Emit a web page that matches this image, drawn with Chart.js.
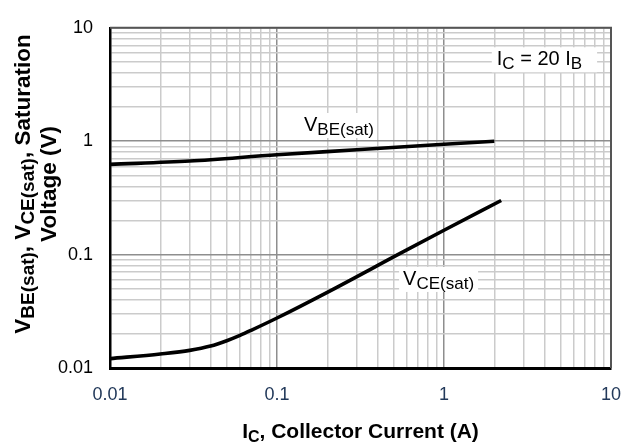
<!DOCTYPE html>
<html><head><meta charset="utf-8">
<script src="https://cdn.jsdelivr.net/npm/chart.js@4/dist/chart.umd.min.js"></script>
<style>html,body{margin:0;padding:0;background:#fff;} #wrap{width:642px;height:443px;position:relative;}</style>
</head><body><div id="wrap"><canvas id="c" width="642" height="443"></canvas></div>
<script>
const FONT = '"Liberation Sans", Arial, Helvetica, sans-serif';

// ---- data ----
const tickDecades = [0.01, 0.1, 1, 10];
const xTickLabels = ['0.01', '0.1', '1', '10'];
const yTickLabels = ['0.01', '0.1', '1', '10'];
const gridSteps = [1, 2, 3, 4, 5, 6, 7, 8, 9];

const icBE = [0.01, 0.03, 0.1, 0.3, 1, 2];
const vbeSat = [0.625, 0.668, 0.76, 0.84, 0.94, 1.0];

const icCE = [0.01, 0.02, 0.03, 0.04, 0.05, 0.06, 0.07, 0.1, 0.2, 0.55, 1, 2.2];
const vceSat = [0.0121, 0.0133, 0.0143, 0.0156, 0.0174, 0.0194, 0.0215, 0.0276, 0.0465, 0.103, 0.164, 0.30];

// ---- helpers ----
const gridValues = [];
tickDecades.slice(0, 3).forEach(d => gridSteps.forEach(s => gridValues.push(+(d * s).toPrecision(6))));
gridValues.push(10);
const isDecade = v => Math.abs(Math.log10(v) - Math.round(Math.log10(v))) < 1e-6;
const labelFor = (v, labels) => {
  const i = tickDecades.findIndex(d => Math.abs(Math.log10(d) - Math.log10(v)) < 1e-6);
  return i >= 0 ? labels[i] : '';
};

const annotations = [
  { x: 0.145, y: 1.23, parts: [['V', 0], ['BE(sat)', 1]], padL: 4, padR: 3 },
  { x: 2.07, y: 4.67, parts: [['I', 0], ['C', 1], [' = 20 ', 0], ['I', 0], ['B', 1]], padL: 5, padR: 15 },
  { x: 0.569, y: 0.054, parts: [['V', 0], ['CE(sat)', 1]], padL: 4, padR: 4 }
];

function fontStr(bold, size) { return (bold ? 'bold ' : '') + size + 'px ' + FONT; }
function measureParts(ctx, parts, main, sub, bold) {
  let w = 0;
  for (const [t, s] of parts) { ctx.font = fontStr(bold, s ? sub : main); w += ctx.measureText(t).width; }
  return w;
}
function drawParts(ctx, parts, x, y, main, sub, bold, dy, color) {
  ctx.textAlign = 'left'; ctx.textBaseline = 'alphabetic'; ctx.fillStyle = color;
  for (const [t, s] of parts) {
    ctx.font = fontStr(bold, s ? sub : main);
    ctx.fillText(t, x, y + (s ? dy : 0));
    x += ctx.measureText(t).width;
  }
}

const decorPlugin = {
  id: 'decor',
  beforeDatasetsDraw(chart) {
    const ctx = chart.ctx, xs = chart.scales.x, ys = chart.scales.y;
    ctx.save();
    for (const a of annotations) {
      const px = xs.getPixelForValue(a.x), py = ys.getPixelForValue(a.y);
      const w = measureParts(ctx, a.parts, 20, 17, false);
      ctx.fillStyle = '#fff';
      ctx.fillRect(px - a.padL, py - 18, w + a.padL + a.padR, 25);
      drawParts(ctx, a.parts, px, py, 20, 17, false, 4, '#000');
    }
    ctx.restore();
  },
  afterDraw(chart) {
    const ctx = chart.ctx, ca = chart.chartArea;
    ctx.save();
    ctx.strokeStyle = '#555'; ctx.lineWidth = 2;
    ctx.beginPath();
    ctx.moveTo(ca.left, ca.top); ctx.lineTo(ca.right, ca.top); ctx.lineTo(ca.right, ca.bottom);
    ctx.stroke();
    // x title
    const xp = [['I', 0], ['C', 1], [', Collector Current (A)', 0]];
    const wx = measureParts(ctx, xp, 21, 16, true);
    drawParts(ctx, xp, (ca.left + ca.right) / 2 - wx / 2, 438, 21, 16, true, 4, '#000');
    // y title
    const l1 = [['V', 0], ['BE(sat)', 1], [', ', 0], ['V', 0], ['CE(sat)', 1], [', Saturation', 0]];
    const l2 = [['Voltage (V)', 0]];
    const cy = 184;
    [[l1, 30], [l2, 56]].forEach(([parts, bx]) => {
      const w = measureParts(ctx, parts, 22.5, 19, true);
      ctx.save();
      ctx.translate(bx, cy);
      ctx.rotate(-Math.PI / 2);
      drawParts(ctx, parts, -w / 2, 0, 22.5, 19, true, 4, '#000');
      ctx.restore();
    });
    ctx.restore();
  }
};

new Chart(document.getElementById('c'), {
  type: 'line',
  data: {
    datasets: [
      { label: 'VBE(sat)', data: icBE.map((x, i) => ({ x, y: vbeSat[i] })), borderColor: '#000', borderWidth: 3.6, pointRadius: 0, cubicInterpolationMode: 'monotone', fill: false },
      { label: 'VCE(sat)', data: icCE.map((x, i) => ({ x, y: vceSat[i] })), borderColor: '#000', borderWidth: 3.6, pointRadius: 0, cubicInterpolationMode: 'monotone', fill: false }
    ]
  },
  options: {
    responsive: false, animation: false, devicePixelRatio: 1,
    layout: { padding: { left: 0, right: 31, top: 15, bottom: 0 } },
    plugins: { legend: { display: false }, tooltip: { enabled: false } },
    scales: {
      x: {
        type: 'logarithmic', min: 0.01, max: 10, position: 'bottom',
        afterBuildTicks: s => { s.ticks = gridValues.map(v => ({ value: v, major: isDecade(v) })); },
        afterFit: s => { s.height = 75; },
        ticks: { autoSkip: false, maxRotation: 0, minRotation: 0, padding: 16, color: '#22395a', font: { family: FONT, size: 18 }, callback: v => labelFor(v, xTickLabels) },
        grid: { drawTicks: false, lineWidth: 1.5, color: c => (c.tick && isDecade(c.tick.value)) ? '#8e8e8e' : '#cbcbcb' },
        border: { display: true, color: '#000', width: 3 }
      },
      y: {
        type: 'logarithmic', min: 0.01, max: 10, position: 'left',
        afterBuildTicks: s => { s.ticks = gridValues.map(v => ({ value: v, major: isDecade(v) })); },
        afterFit: s => { s.width = 110; },
        ticks: { autoSkip: false, padding: 17, color: '#000', font: { family: FONT, size: 18 }, callback: v => labelFor(v, yTickLabels) },
        grid: { drawTicks: false, lineWidth: 1.5, color: c => (c.tick && isDecade(c.tick.value)) ? '#8e8e8e' : '#cbcbcb' },
        border: { display: true, color: '#000', width: 2.5 }
      }
    }
  },
  plugins: [decorPlugin]
});
</script>
</body></html>
